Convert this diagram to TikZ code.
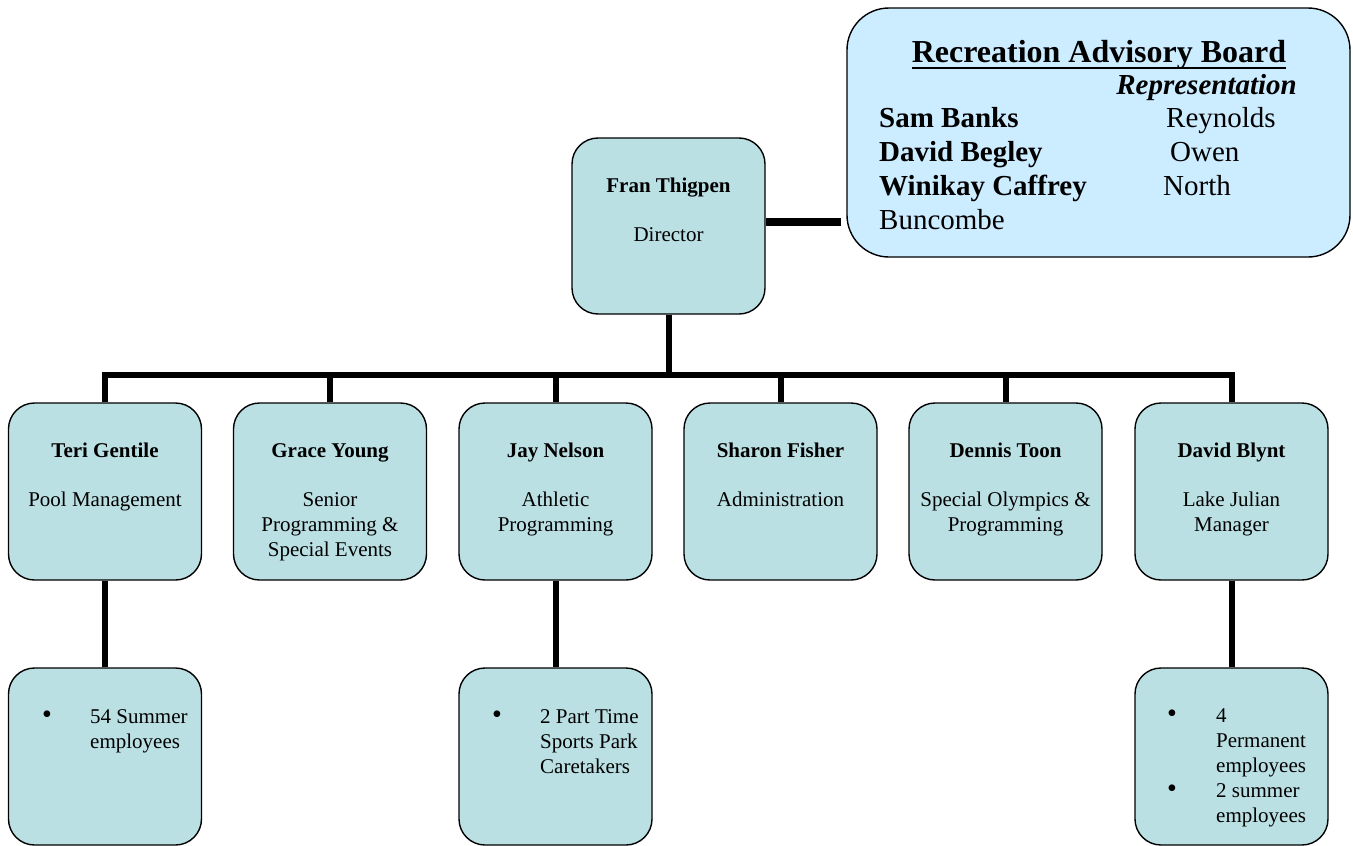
\documentclass[tikz,border=0pt]{standalone}
\usepackage{fontspec}
\setmainfont{Liberation Serif}
\definecolor{boxfill}{RGB}{187,224,228}
\definecolor{boardfill}{RGB}{204,236,255}
\begin{document}
\begin{tikzpicture}[x=1pt,y=-1pt,
  box/.style={draw, line width=1.4pt, rounded corners=26pt, fill=boxfill,
    minimum width=193pt, minimum height=177pt, inner sep=0pt},
  board/.style={draw, line width=1.4pt, rounded corners=42pt, fill=boardfill,
    minimum width=503pt, minimum height=249pt, inner sep=0pt},
  conn/.style={line width=6pt},
  heavy/.style={line width=7.5pt},
  txt/.style={inner sep=0pt, anchor=base, font=\fontsize{21}{25}\selectfont},
  nm/.style={txt, font=\fontsize{21}{25}\selectfont\bfseries},
  bul/.style={inner sep=0pt, anchor=base, font=\fontsize{28}{25}\selectfont},
  lt/.style={inner sep=0pt, anchor=base west, font=\fontsize{21}{25}\selectfont},
  bt/.style={inner sep=0pt, anchor=base west, font=\fontsize{29}{34}\selectfont},
]
\useasboundingbox (0,0) rectangle (1353,846);

% boxes
\node[box, minimum height=176pt] (dir) at (668.5,226) {};
\node[board] (board) at (1098.5,132.5) {};
\node[box] (s1) at (105,491.5) {};
\node[box] (s2) at (330,491.5) {};
\node[box] (s3) at (555.5,491.5) {};
\node[box] (s4) at (780.5,491.5) {};
\node[box] (s5) at (1005.5,491.5) {};
\node[box] (s6) at (1231.5,491.5) {};
\node[box] (c1) at (105,756.5) {};
\node[box] (c3) at (555.5,756.5) {};
\node[box] (c6) at (1231.5,756.5) {};

% connectors
\coordinate (bj) at (841,222);
\coordinate (bus) at (668.5,375);
\draw[heavy] (dir.east |- bj) -- (bj);
\draw[conn] (dir.south) -- (bus);
\draw[conn] (s1.north) |- (bus) -| (s6.north);
\draw[conn] (s2.north) -- (s2.north |- bus);
\draw[conn] (s3.north) -- (s3.north |- bus);
\draw[conn] (s4.north) -- (s4.north |- bus);
\draw[conn] (s5.north) -- (s5.north |- bus);
\draw[conn] (s1.south) -- (c1.north);
\draw[conn] (s3.south) -- (c3.north);
\draw[conn] (s6.south) -- (c6.north);

% director text
\node[nm] (dirn) at (668.5,192) {Fran Thigpen};
\node[txt] (dirt) at (668.5,241) {Director};

% second row text
\node[nm] (n1) at (105,457) {Teri Gentile};
\node[txt] (t1a) at (105,506) {Pool Management};
\node[nm] (n2) at (330,457) {Grace Young};
\node[txt] (t2a) at (330,506) {Senior};
\node[txt] (t2b) at (330,531) {Programming \&};
\node[txt] (t2c) at (330,556) {Special Events};
\node[nm] (n3) at (555.5,457) {Jay Nelson};
\node[txt] (t3a) at (555.5,506) {Athletic};
\node[txt] (t3b) at (555.5,531) {Programming};
\node[nm] (n4) at (780.5,457) {Sharon Fisher};
\node[txt] (t4a) at (780.5,506) {Administration};
\node[nm] (n5) at (1005.5,457) {Dennis Toon};
\node[txt] (t5a) at (1005.5,506) {Special Olympics \&};
\node[txt] (t5b) at (1005.5,531) {Programming};
\node[nm] (n6) at (1231.5,457) {David Blynt};
\node[txt] (t6a) at (1231.5,506) {Lake Julian};
\node[txt] (t6b) at (1231.5,531) {Manager};

% bottom text
\node[bul] (u1) at (47,723) {\textbullet};
\node[lt] (l1a) at (90,723) {54 Summer};
\node[lt] (l1b) at (90,748) {employees};
\node[bul] (u3) at (497,723) {\textbullet};
\node[lt] (l3a) at (540,723) {2 Part Time};
\node[lt] (l3b) at (540,748) {Sports Park};
\node[lt] (l3c) at (540,773) {Caretakers};
\node[bul] (u6a) at (1172,722) {\textbullet};
\node[lt] (l6a) at (1216,722) {4};
\node[lt] (l6b) at (1216,747) {Permanent};
\node[lt] (l6c) at (1216,772) {employees};
\node[bul] (u6b) at (1172,797) {\textbullet};
\node[lt] (l6d) at (1216,797) {2 summer};
\node[lt] (l6e) at (1216,822) {employees};

% board text
\node[inner sep=0pt, anchor=base, font=\fontsize{32}{36}\selectfont\bfseries] (bt0) at (1099,62)
  {\vtop{\hbox{Recreation Advisory Board}\kern-2.2pt\hrule height 2.4pt}};
\node[inner sep=0pt, anchor=base east, font=\fontsize{29}{34}\selectfont\bfseries\itshape] (bt1) at (1297,94) {Representation};
\node[bt, font=\fontsize{29}{34}\selectfont\bfseries] (bn1) at (879,127) {Sam Banks};
\node[bt, font=\fontsize{29}{34}\selectfont\bfseries] (bn2) at (879,161) {David Begley};
\node[bt, font=\fontsize{29}{34}\selectfont\bfseries] (bn3) at (879,195) {Winikay Caffrey};
\node[bt] (bn4) at (879,229) {Buncombe};
\node[bt] (br1) at (1166,127) {Reynolds};
\node[bt] (br2) at (1170,161) {Owen};
\node[bt] (br3) at (1163,195) {North};
\end{tikzpicture}
\end{document}
